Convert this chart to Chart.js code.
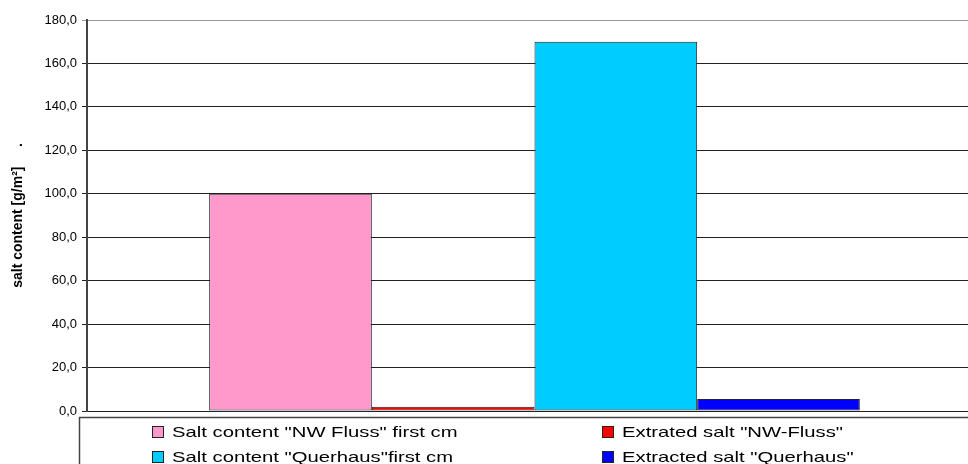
<!DOCTYPE html>
<html>
<head>
<meta charset="utf-8">
<script src="https://cdn.jsdelivr.net/npm/chart.js@4/dist/chart.umd.min.js"></script>
<style>
  html, body { margin: 0; padding: 0; background: #fff; overflow: hidden; }
  #wrap { position: relative; width: 982px; height: 464px; }
</style>
</head>
<body>
<div id="wrap"><canvas id="c" width="982" height="464"></canvas></div>
<script>
// Salt content per square metre: first-cm content vs. extracted amount, two sites
const categories = [''];
const seriesNames = [
  'Salt content "NW Fluss" first cm',
  'Extrated salt "NW-Fluss"',
  'Salt content "Querhaus"first cm',
  'Extracted salt "Querhaus"'
];
const seriesValues = [
  [100.0],
  [2.0],
  [170.0],
  [5.5]
];
const seriesColors = ['#FF99CC', '#FF0000', '#00CCFF', '#0000FF'];
const yTicks = [0, 20, 40, 60, 80, 100, 120, 140, 160, 180];

const FONT = '"Liberation Sans", Arial, sans-serif';

// Boxed two-column legend below the plot (text drawn slightly wide)
const boxedLegend = {
  id: 'boxedLegend',
  afterDraw(chart) {
    const ctx = chart.ctx;
    ctx.save();
    ctx.strokeStyle = '#444';
    ctx.lineWidth = 1.5;
    ctx.strokeRect(79.5, 417.5, chart.width, 60);
    const colX = [152, 602];
    const rowY = [426, 451];
    const stretch = 1.35;
    chart.data.datasets.forEach((ds, i) => {
      const x = colX[i % 2];
      const y = rowY[Math.floor(i / 2)];
      ctx.fillStyle = ds.backgroundColor;
      ctx.fillRect(x, y, 11, 11);
      ctx.strokeStyle = '#222';
      ctx.lineWidth = 1;
      ctx.strokeRect(x + 0.5, y + 0.5, 11, 11);
      ctx.save();
      ctx.translate(x + 20, y + 6.5);
      ctx.scale(stretch, 1);
      ctx.font = '15px ' + FONT;
      ctx.textBaseline = 'middle';
      ctx.textAlign = 'left';
      ctx.fillStyle = '#000';
      ctx.fillText(ds.label, 0, 0);
      ctx.restore();
    });
    ctx.restore();
  }
};

new Chart(document.getElementById('c'), {
  type: 'bar',
  data: {
    labels: categories,
    datasets: seriesNames.map((name, i) => ({
      label: name,
      data: seriesValues[i],
      backgroundColor: seriesColors[i],
      borderColor: '#222',
      borderWidth: 1,
      borderSkipped: false,
      barPercentage: 1.0,
      categoryPercentage: 0.727
    }))
  },
  options: {
    responsive: false,
    animation: false,
    layout: { padding: { top: 20, bottom: 53, left: 0, right: 0 } },
    plugins: {
      legend: { display: false },
      tooltip: { enabled: false }
    },
    scales: {
      x: { display: false },
      y: {
        min: 0,
        max: 180,
        afterBuildTicks(scale) { scale.ticks = yTicks.map(v => ({ value: v })); },
        afterFit(scale) { scale.width = 87; },
        ticks: {
          color: '#000',
          padding: 5,
          font: { family: FONT, size: 13 },
          callback: v => v.toFixed(1).replace('.', ',')
        },
        grid: {
          color: c => (c.tick && c.tick.value === 180) ? '#999' : '#222',
          lineWidth: 1,
          tickLength: 5
        },
        border: { color: '#444', width: 2 },
        title: {
          display: true,
          text: 'salt content [g/m²]     .',
          color: '#000',
          font: { family: FONT, size: 14, weight: 'bold' },
          padding: { top: 10, bottom: 0 }
        }
      }
    }
  },
  plugins: [boxedLegend]
});
</script>
</body>
</html>
